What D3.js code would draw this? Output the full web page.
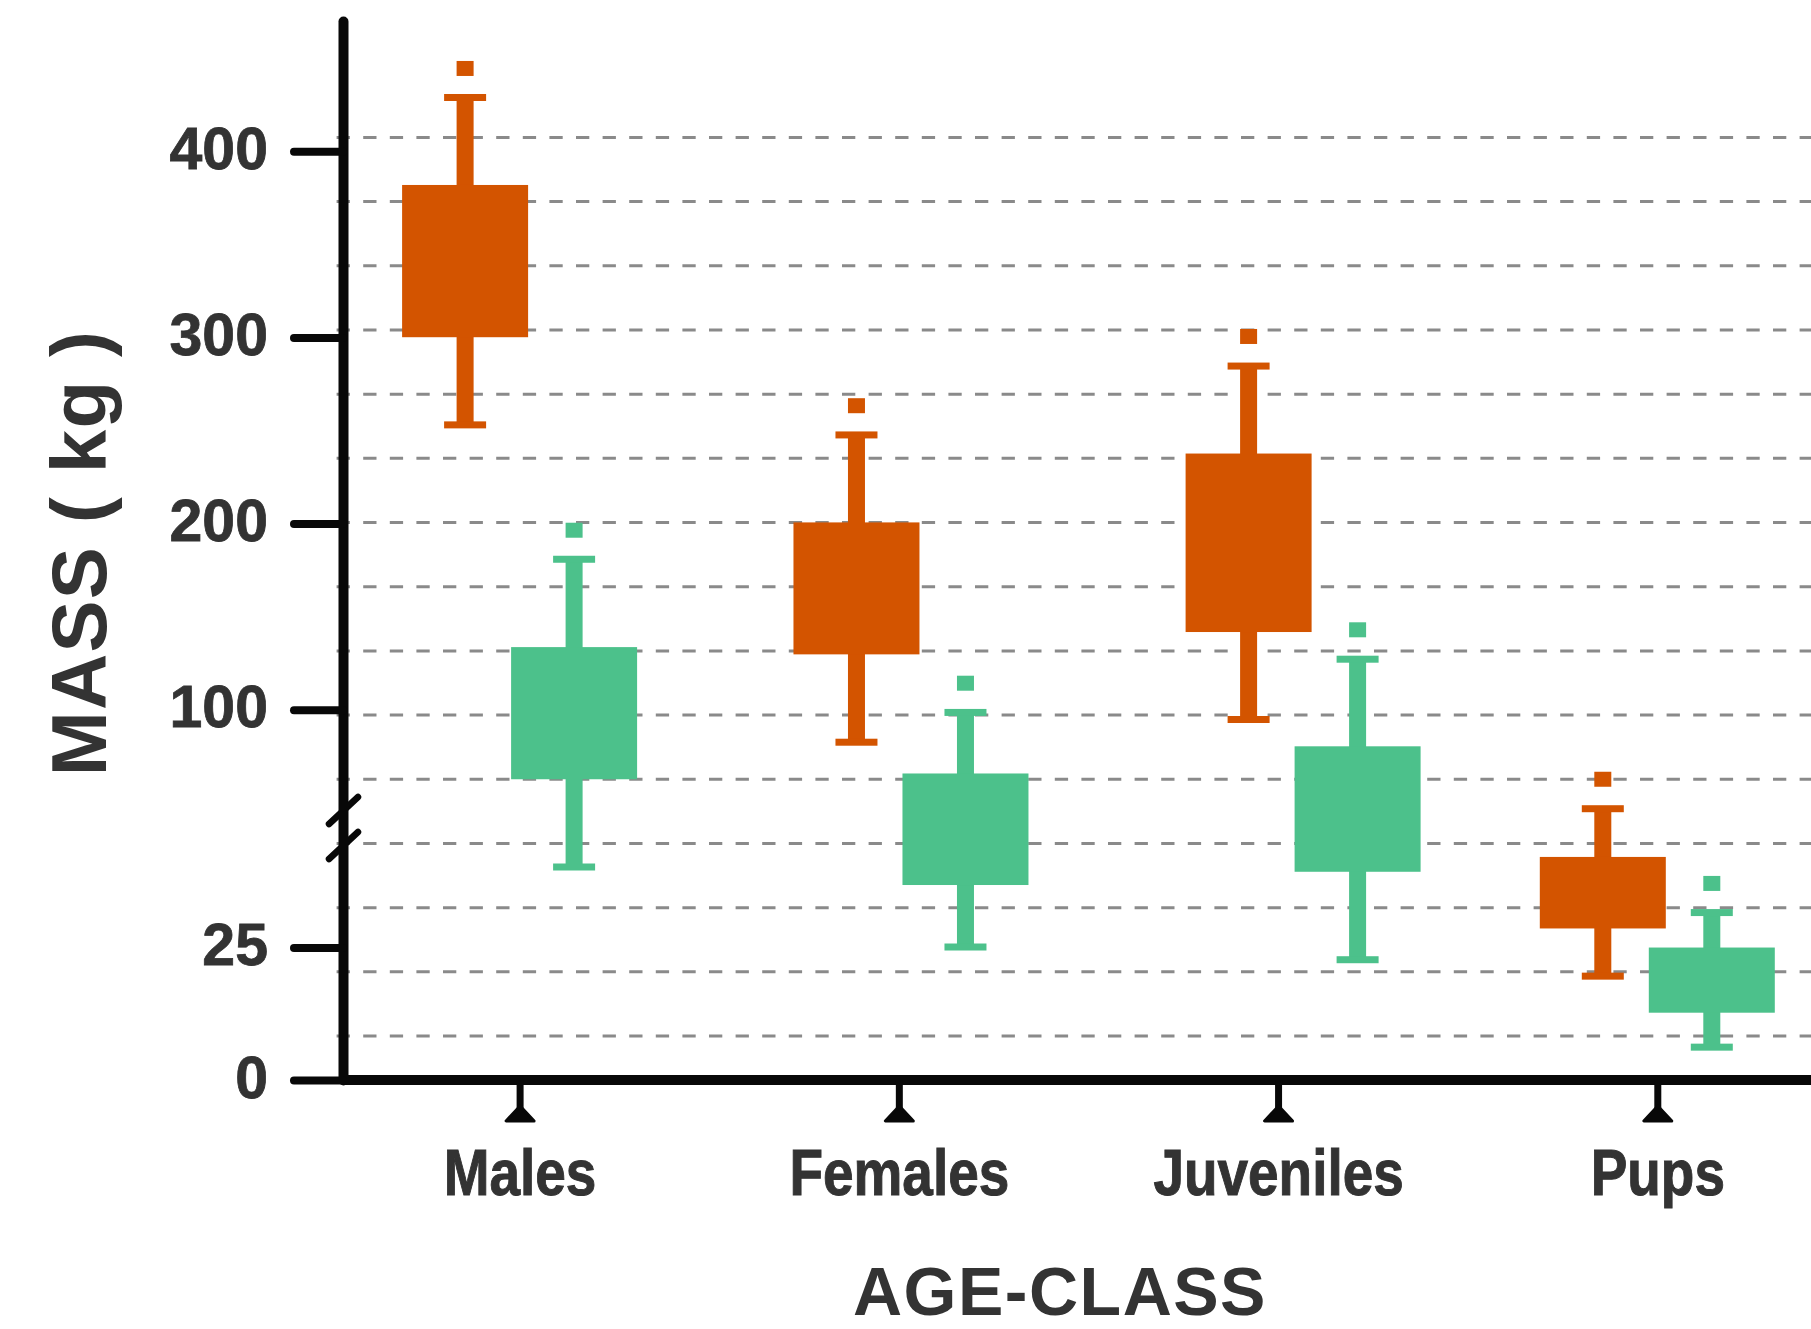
<!DOCTYPE html>
<html>
<head>
<meta charset="utf-8">
<script src="https://cdn.jsdelivr.net/npm/d3@7"></script>
<style>
  html, body { margin: 0; padding: 0; background: #fff; }
  svg { display: block; }
  .lab { font-family: "Liberation Sans", Arial, sans-serif; font-weight: bold; }
</style>
</head>
<body>
<svg id="chart" width="1811" height="1329"></svg>
<script>
// ---- data (mass in kg) ----
const categories = ['Males', 'Females', 'Juveniles', 'Pups'];
// where each pair of boxes sits on the category axis (ticks are at 0..3)
const groupPos = [0, 1.032, 2.066, 3];
const seriesKeys = ['orange', 'green'];

const orangeMin = [253.0, 82.5, 94.7, 19.6];
const orangeQ1  = [300.1, 129.7, 141.7, 28.6];
const orangeQ3  = [381.9, 200.6, 237.6, 42.1];
const orangeMax = [428.9, 247.6, 284.6, 51.2];
const orangeOut = [444.5, 263.3, 300.5, 62.6];

const greenMin = [40.2, 25.1, 22.7, 6.2];
const greenQ1  = [62.6, 36.8, 39.3, 12.7];
const greenQ3  = [133.6, 65.7, 80.3, 25.0];
const greenMax = [180.8, 98.5, 127.1, 31.6];
const greenOut = [196.4, 114.2, 142.9, 37.1];

const yTicks = [0, 25, 100, 200, 300, 400];
const axisBreak = 53.6;   // value where the y scale changes slope
const yTop = 470;

// ---- layout ----
const W = 1811, H = 1329;
const axisX = 343, axisY = 1080;
const colors = { orange: '#d35400', green: '#4cc18b' };
const ink = '#080808';
const textColor = '#333333';
const boxW = 126, stemW = 17, capW = 42, capH = 7, outW = 17, outH = 15;
const narrow = 0.845;   // horizontal squeeze for the category labels

const svg = d3.select('#chart');

const yScale = d3.scaleLinear()
  .domain([0, axisBreak, yTop])
  .range([axisY, 796, 21]);

const xScale = d3.scaleLinear()
  .domain([0, categories.length - 1])
  .range([519.6, 1657.3]);

const offset = d3.scalePoint()
  .domain(seriesKeys)
  .range([-54.5, 54.5]);

const byKey = {
  orange: { min: orangeMin, q1: orangeQ1, q3: orangeQ3, max: orangeMax, out: orangeOut },
  green:  { min: greenMin,  q1: greenQ1,  q3: greenQ3,  max: greenMax,  out: greenOut }
};

const boxes = [];
categories.forEach((c, i) => {
  for (const k of seriesKeys) {
    const s = byKey[k];
    boxes.push({ cat: c, i: i, key: k, min: s.min[i], q1: s.q1[i], q3: s.q3[i], max: s.max[i], out: s.out[i] });
  }
});

// dashed background lines (evenly spaced, not tied to the ticks)
const gridCount = 15;
const gridScale = d3.scaleLinear().domain([0, gridCount - 1]).range([137.4, 1036]);
svg.append('g')
  .selectAll('line')
  .data(d3.range(gridCount))
  .join('line')
  .attr('x1', 336.6)
  .attr('x2', W)
  .attr('y1', d => gridScale(d))
  .attr('y2', d => gridScale(d))
  .attr('stroke', '#8a8a8a')
  .attr('stroke-width', 3)
  .attr('stroke-dasharray', '13.3,13.3');

// boxes
const g = svg.append('g')
  .selectAll('g')
  .data(boxes)
  .join('g')
  .attr('fill', d => colors[d.key])
  .attr('transform', d => 'translate(' + (xScale(groupPos[d.i]) + offset(d.key)) + ',0)');

g.append('rect')
  .attr('x', -stemW / 2)
  .attr('width', stemW)
  .attr('y', d => yScale(d.max))
  .attr('height', d => yScale(d.min) - yScale(d.max));

g.append('rect')
  .attr('x', -boxW / 2)
  .attr('width', boxW)
  .attr('y', d => yScale(d.q3))
  .attr('height', d => yScale(d.q1) - yScale(d.q3));

g.append('rect')
  .attr('x', -capW / 2)
  .attr('width', capW)
  .attr('y', d => yScale(d.max) - capH / 2)
  .attr('height', capH);

g.append('rect')
  .attr('x', -capW / 2)
  .attr('width', capW)
  .attr('y', d => yScale(d.min) - capH / 2)
  .attr('height', capH);

g.append('rect')
  .attr('x', -outW / 2)
  .attr('width', outW)
  .attr('y', d => yScale(d.out) - outH / 2)
  .attr('height', outH);

// x axis
svg.append('line')
  .attr('x1', axisX)
  .attr('x2', W)
  .attr('y1', axisY)
  .attr('y2', axisY)
  .attr('stroke', ink)
  .attr('stroke-width', 10);

const xAxis = svg.append('g')
  .attr('transform', 'translate(0,' + axisY + ')')
  .call(d3.axisBottom(xScale)
    .tickValues(d3.range(categories.length))
    .tickFormat(i => categories[i])
    .tickSize(28)
    .tickSizeOuter(0));
xAxis.select('.domain').remove();
xAxis.selectAll('.tick line')
  .attr('stroke', ink)
  .attr('stroke-width', 7);
xAxis.selectAll('.tick')
  .append('path')
  .attr('d', 'M0,26L-14,41L14,41Z')
  .attr('fill', ink)
  .attr('stroke', ink)
  .attr('stroke-width', 3)
  .attr('stroke-linejoin', 'round');
xAxis.selectAll('.tick text')
  .attr('class', 'lab')
  .attr('y', 115)
  .attr('dy', 0)
  .attr('transform', 'scale(' + narrow + ',1)')
  .attr('fill', textColor)
  .attr('stroke', textColor)
  .attr('stroke-width', 1)
  .attr('font-size', 65);

// y axis
const yAxis = svg.append('g')
  .attr('transform', 'translate(' + axisX + ',0)')
  .call(d3.axisLeft(yScale)
    .tickValues(yTicks)
    .tickSize(49)
    .tickSizeOuter(0));
yAxis.select('.domain')
  .attr('stroke', ink)
  .attr('stroke-width', 10)
  .attr('stroke-linecap', 'round');
yAxis.selectAll('.tick line')
  .attr('stroke', ink)
  .attr('stroke-width', 8)
  .attr('stroke-linecap', 'round');
yAxis.selectAll('.tick text')
  .attr('class', 'lab')
  .attr('x', -75)
  .attr('y', 17)
  .attr('dy', 0)
  .attr('fill', textColor)
  .attr('stroke', textColor)
  .attr('stroke-width', 0.8)
  .attr('font-size', 59);

// axis break marks
const breakY = yScale(axisBreak);
svg.append('g')
  .selectAll('line')
  .data([0, 35])
  .join('line')
  .attr('x1', 329)
  .attr('x2', 358)
  .attr('y1', d => breakY + 28 + d)
  .attr('y2', d => breakY + 1 + d)
  .attr('stroke', ink)
  .attr('stroke-width', 6.5)
  .attr('stroke-linecap', 'round');

// axis titles
svg.append('text')
  .attr('class', 'lab')
  .attr('x', 1060)
  .attr('y', 1315)
  .attr('text-anchor', 'middle')
  .attr('font-size', 68)
  .attr('letter-spacing', 1.5)
  .attr('fill', textColor)
  .text('AGE-CLASS');

svg.append('text')
  .attr('class', 'lab')
  .attr('transform', 'translate(106,553) rotate(-90)')
  .attr('text-anchor', 'middle')
  .attr('font-size', 78)
  .attr('letter-spacing', 1.2)
  .attr('fill', textColor)
  .text('MASS ( kg )');
</script>
</body>
</html>
